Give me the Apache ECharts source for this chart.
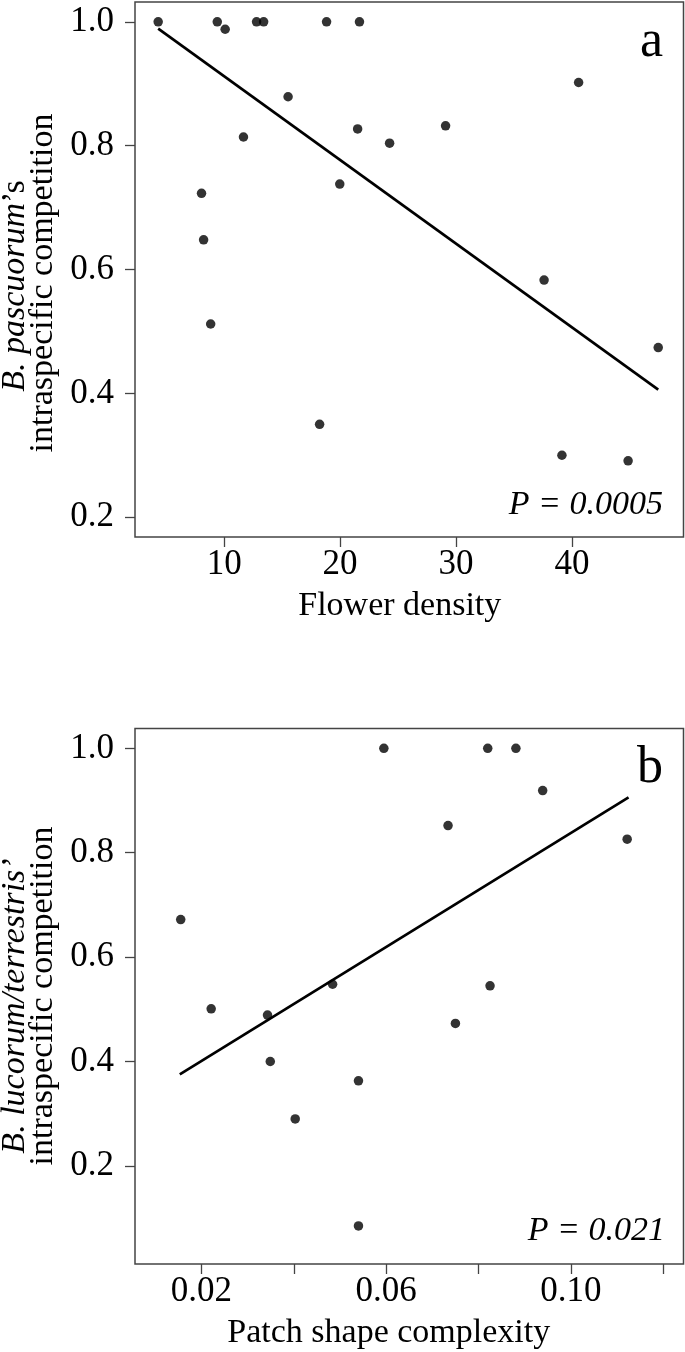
<!DOCTYPE html>
<html>
<head>
<meta charset="utf-8">
<script src="https://cdn.jsdelivr.net/npm/echarts@6/dist/echarts.min.js"></script>
<style>
  html, body { margin: 0; padding: 0; background: #fff; }
  #chart { width: 685px; height: 1352px; }
</style>
</head>
<body>
<div id="chart"></div>
<script>
// ---- Panel a data ----
const flowerDensity = [4.30, 9.40, 10.08, 12.79, 13.40, 18.83, 21.67, 15.51, 11.66, 21.51, 24.27, 29.10, 40.58, 8.04, 8.22, 19.97, 37.60, 8.83, 18.23, 47.45, 39.14, 44.85];
const competitionA = [1.0, 1.0, 0.988, 1.0, 1.0, 1.0, 1.0, 0.879, 0.814, 0.827, 0.804, 0.832, 0.902, 0.723, 0.648, 0.738, 0.583, 0.512, 0.350, 0.474, 0.300, 0.291];
const fitAX = [4.30, 47.45];
const fitAY = [0.989, 0.406];
const xTicksA = [10, 20, 30, 40];
const yTicksA = [0.2, 0.4, 0.6, 0.8, 1.0];

// ---- Panel b data ----
const patchComplexity = [0.0155, 0.0595, 0.0820, 0.0881, 0.0939, 0.0734, 0.1122, 0.0484, 0.0825, 0.0221, 0.0343, 0.0750, 0.0349, 0.0540, 0.0403, 0.0540];
const competitionB = [0.672, 1.0, 1.0, 1.0, 0.919, 0.852, 0.826, 0.548, 0.545, 0.501, 0.489, 0.473, 0.400, 0.363, 0.290, 0.085];
const fitBX = [0.0153, 0.1125];
const fitBY = [0.3755, 0.906];
const xTicksB = [0.02, 0.04, 0.06, 0.08, 0.10, 0.12];
const xLabelsB = [0.02, 0.06, 0.10];
const yTicksB = [0.2, 0.4, 0.6, 0.8, 1.0];

const FONT = "'Liberation Serif', 'Times New Roman', serif";
const BOX = '#444';

const chart = echarts.init(document.getElementById('chart'), null, { renderer: 'canvas' });

function xAxisCfg(gridIndex, min, max, ticks, labels, name, fmt, shift) {
  return {
    type: 'value', gridIndex, min, max,
    name, nameLocation: 'middle', nameGap: 52,
    nameTextStyle: { fontFamily: FONT, fontSize: 34, color: '#000', padding: [0, shift, 0, 0] },
    axisLine: { show: false },
    axisTick: { show: true, inside: false, length: 10, customValues: ticks, lineStyle: { color: BOX, width: 1.3 } },
    axisLabel: { show: true, margin: 10, customValues: labels, fontFamily: FONT, fontSize: 35, color: '#000', formatter: fmt },
    splitLine: { show: false }
  };
}
function yAxisCfg(gridIndex, min, max, ticks) {
  return {
    type: 'value', gridIndex, min, max,
    axisLine: { show: false },
    axisTick: { show: true, inside: false, length: 10, customValues: ticks, lineStyle: { color: BOX, width: 1.3 } },
    axisLabel: { show: true, margin: 21, customValues: ticks, fontFamily: FONT, fontSize: 35, color: '#000', formatter: v => v.toFixed(1) },
    splitLine: { show: false }
  };
}

const option = {
  animation: false,
  backgroundColor: '#fff',
  grid: [
    { left: 135, right: 1.5, top: 2, height: 535, show: true, borderColor: BOX, borderWidth: 1.5, backgroundColor: 'transparent', containLabel: false },
    { left: 135, right: 1.5, top: 728.5, height: 535.5, show: true, borderColor: BOX, borderWidth: 1.5, backgroundColor: 'transparent', containLabel: false }
  ],
  xAxis: [
    xAxisCfg(0, 2.30, 49.63, xTicksA, xTicksA, 'Flower density', v => String(Math.round(v)), 19),
    xAxisCfg(1, 0.0056, 0.1244, xTicksB, xLabelsB, 'Patch shape complexity', v => v.toFixed(2), 41)
  ],
  yAxis: [
    yAxisCfg(0, 0.168, 1.032, yTicksA),
    yAxisCfg(1, 0.012, 1.038, yTicksB)
  ],
  series: [
    {
      type: 'scatter', xAxisIndex: 0, yAxisIndex: 0, symbol: 'circle', symbolSize: 9.5,
      itemStyle: { color: '#000' },
      data: flowerDensity.map((x, i) => [x, competitionA[i]])
    },
    {
      type: 'line', xAxisIndex: 0, yAxisIndex: 0, showSymbol: false, symbol: 'none',
      lineStyle: { color: '#000', width: 2.7 },
      data: fitAX.map((x, i) => [x, fitAY[i]])
    },
    {
      type: 'scatter', xAxisIndex: 1, yAxisIndex: 1, symbol: 'circle', symbolSize: 9.5,
      itemStyle: { color: '#000' },
      data: patchComplexity.map((x, i) => [x, competitionB[i]])
    },
    {
      type: 'line', xAxisIndex: 1, yAxisIndex: 1, showSymbol: false, symbol: 'none',
      lineStyle: { color: '#000', width: 2.7 },
      data: fitBX.map((x, i) => [x, fitBY[i]])
    }
  ],
  graphic: [
    // panel labels
    { type: 'text', x: 663, y: 42.5, style: { text: 'a', font: '52px ' + FONT, fill: '#000', align: 'right', verticalAlign: 'middle' } },
    { type: 'text', x: 663, y: 768.5, style: { text: 'b', font: '52px ' + FONT, fill: '#000', align: 'right', verticalAlign: 'middle' } },
    // P values
    { type: 'text', x: 663, y: 505.5, style: { text: 'P = 0.0005', font: 'italic 34px ' + FONT, fill: '#000', align: 'right', verticalAlign: 'middle' } },
    { type: 'text', x: 665, y: 1231.5, style: { text: 'P = 0.021', font: 'italic 34px ' + FONT, fill: '#000', align: 'right', verticalAlign: 'middle' } },
    // y-axis titles panel a
    { type: 'text', x: 15.5, y: 286, rotation: Math.PI / 2,
      style: { text: '{i|B. pascuorum}{n|’s}', align: 'center', verticalAlign: 'middle', fill: '#000',
        rich: { i: { fontFamily: FONT, fontSize: 34, fontStyle: 'italic', color: '#000' }, n: { fontFamily: FONT, fontSize: 34, color: '#000' } } } },
    { type: 'text', x: 43.5, y: 283, rotation: Math.PI / 2,
      style: { text: 'intraspecific competition', font: '34px ' + FONT, fill: '#000', align: 'center', verticalAlign: 'middle' } },
    // y-axis titles panel b
    { type: 'text', x: 15.5, y: 1006, rotation: Math.PI / 2,
      style: { text: 'B. lucorum/terrestris’', font: 'italic 34px ' + FONT, fill: '#000', align: 'center', verticalAlign: 'middle' } },
    { type: 'text', x: 43.5, y: 996, rotation: Math.PI / 2,
      style: { text: 'intraspecific competition', font: '34px ' + FONT, fill: '#000', align: 'center', verticalAlign: 'middle' } }
  ]
};
chart.setOption(option);
</script>
</body>
</html>
